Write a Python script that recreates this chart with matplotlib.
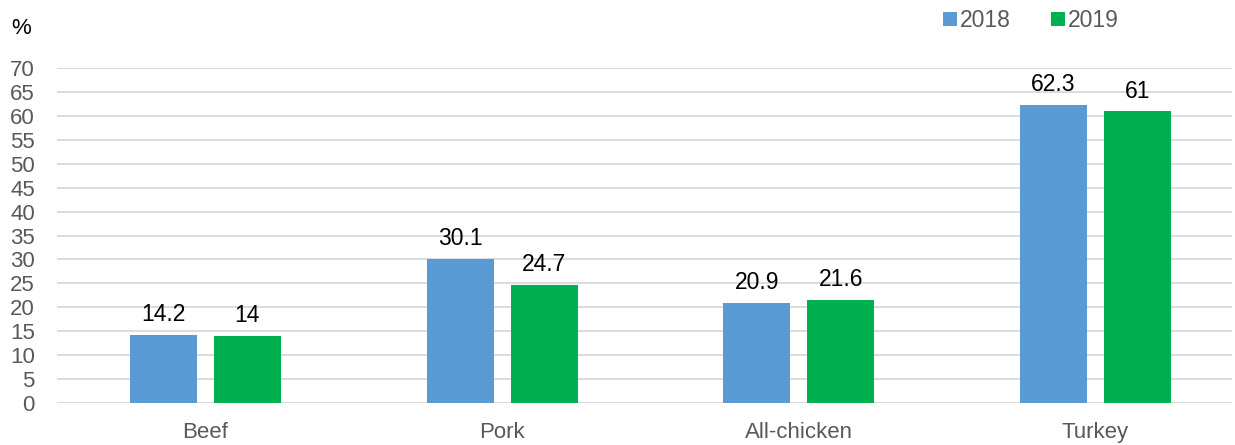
import matplotlib.pyplot as plt
import numpy as np

plt.rcParams['font.family'] = ['Liberation Sans', 'DejaVu Sans']

categories = ['Beef', 'Pork', 'All-chicken', 'Turkey']
vals_2018 = [14.2, 30.1, 20.9, 62.3]
vals_2019 = [14, 24.7, 21.6, 61]
labels_2018 = ['14.2', '30.1', '20.9', '62.3']
labels_2019 = ['14', '24.7', '21.6', '61']

blue = '#5B9BD5'
green = '#00B050'
grey = '#595959'

fig = plt.figure(figsize=(12.35, 4.45), dpi=100)
ax = fig.add_axes([0.0462, 0.0944, 0.9514, 0.7526])

x = np.arange(len(categories))
w = 0.226
off = 0.1416
b1 = ax.bar(x - off, vals_2018, w, color=blue, label='2018', zorder=3)
b2 = ax.bar(x + off, vals_2019, w, color=green, label='2019', zorder=3)

# value labels above bars
for bars, labs in ((b1, labels_2018), (b2, labels_2019)):
    for r, t in zip(bars, labs):
        ax.text(r.get_x() + r.get_width() / 2, r.get_height() + 1.8, t,
                ha='center', va='bottom', fontsize=16.5, color='black')

ax.set_xlim(-0.5, 3.46)
ax.set_ylim(0, 70)
ax.set_yticks(np.arange(0, 71, 5))
ax.set_xticks(x)
ax.set_xticklabels(categories)
ax.tick_params(axis='both', length=0, labelsize=16, labelcolor=grey)
ax.tick_params(axis='y', pad=16)
ax.tick_params(axis='x', pad=14)
ax.grid(True, axis='y', color='#D9D9D9', linewidth=1.3, zorder=0)
ax.set_axisbelow(True)
for s in ax.spines.values():
    s.set_visible(False)

fig.text(0.009, 0.935, '%', fontsize=16, color='black', ha='left', va='center')

ax.legend(loc='center left', bbox_to_anchor=(0.754, 1.142), ncol=2, frameon=False,
          fontsize=16.5, labelcolor=grey, handlelength=0.6, handleheight=0.6,
          handletextpad=0.15, columnspacing=1.75, borderpad=0, borderaxespad=0)

plt.savefig('out.png', dpi=100)
